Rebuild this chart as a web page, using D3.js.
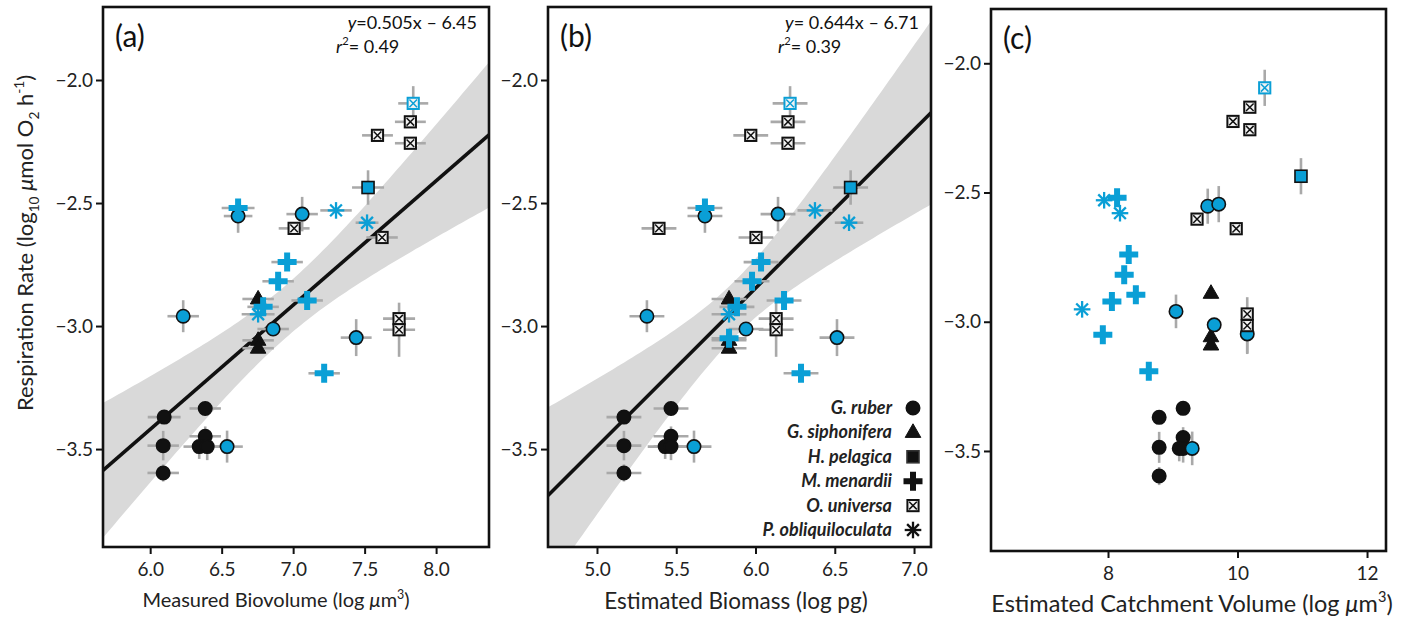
<!DOCTYPE html>
<html><head><meta charset="utf-8">
<script src="https://cdn.jsdelivr.net/npm/d3@7"></script>
<style>
body{margin:0;background:#fff;}
svg{display:block;font-family:Lato,"Open Sans",sans-serif;}
</style>
</head><body>
<svg id="chart" width="1411" height="623"></svg>
<script>
// ---------------- DATA ----------------
const speciesKeys  = ['ruber','siphonifera','pelagica','menardii','universa','obliquiloculata'];
const speciesNames = ['G. ruber','G. siphonifera','H. pelagica','M. menardii','O. universa','P. obliquiloculata'];

const pointSpecies = ['universa','universa','universa','universa','pelagica','menardii','ruber','ruber',
  'obliquiloculata','obliquiloculata','universa','universa','menardii','menardii','menardii','menardii',
  'siphonifera','obliquiloculata','ruber','ruber','siphonifera','siphonifera','ruber','universa','universa',
  'menardii','menardii','ruber','ruber','ruber','ruber','ruber','ruber','ruber','ruber'];
const pointColor = ['outline','black','black','black','blue','blue','blue','blue','blue','blue','black','black',
  'blue','blue','blue','blue','black','blue','blue','blue','black','black','blue','black','black','blue','blue',
  'black','black','black','black','black','black','black','blue'];
// x of panel (a): measured biovolume (log um3)
const biovolume = [7.84,7.82,7.59,7.82,7.524,6.615,6.615,7.063,7.30,7.517,7.007,7.622,6.958,6.895,7.098,6.79,
  6.755,6.755,6.231,6.86,6.755,6.755,7.441,7.741,7.741,null,7.217,6.098,6.385,6.385,6.091,6.343,6.399,6.091,6.538];
const biovolumeErr = [0.105,0.108,0.108,0.108,0.112,0.115,0.10,0.11,0.11,0.08,0.108,0.11,0.11,0.11,0.11,0.11,
  0.11,0.115,0.11,0.11,0.11,0.11,0.108,0.112,0.112,null,0.11,0.115,0.11,0.11,0.11,0.11,0.11,0.11,0.11];
// x of panel (b): estimated biomass (log pg)
const biomass = [6.218,6.205,5.97,6.205,6.60,5.681,5.681,6.142,6.375,6.59,5.391,6.003,6.035,5.978,6.18,5.883,
  5.833,5.833,5.315,5.94,5.833,5.833,6.514,6.13,6.13,5.833,6.287,5.17,5.467,5.467,5.17,5.43,5.467,5.17,5.612];
const biomassErr = [0.11,0.11,0.11,0.11,0.11,0.11,0.11,0.11,0.11,0.09,0.11,0.11,0.11,0.11,0.11,0.11,
  0.11,0.11,0.11,0.11,0.11,0.11,0.11,0.11,0.11,0.11,0.11,0.11,0.11,0.11,0.11,0.11,0.11,0.11,0.11];
// x of panel (c): estimated catchment volume (log um3)
const catchment = [10.42,10.19,9.93,10.19,10.98,8.14,9.54,9.71,7.94,8.185,9.375,9.98,8.32,8.25,8.43,8.06,
  9.59,7.60,9.05,9.64,9.59,9.59,10.15,10.15,10.15,7.92,8.63,8.79,9.16,9.16,8.79,9.10,9.16,8.79,9.30];
// y: respiration rate (log10 umol O2 h-1)
const resp = [-2.095,-2.17,-2.225,-2.257,-2.437,-2.52,-2.553,-2.545,-2.53,-2.58,-2.603,-2.64,-2.74,-2.818,
  -2.896,-2.922,-2.89,-2.952,-2.96,-3.012,-3.058,-3.09,-3.047,-2.97,-3.015,-3.05,-3.192,-3.37,-3.335,-3.448,
  -3.486,-3.49,-3.49,-3.597,-3.49];
const respErr = [0.07,0.02,0.02,0.02,0.07,0.02,0.068,0.07,0.01,0.01,0.02,0.02,0.02,0.02,0.02,0.02,0.02,0.01,
  0.065,0.02,0.02,0.02,0.075,0.02,0.11,0.02,0.02,0.02,0.02,0.04,0.06,0.05,0.055,0.035,0.065];

const respTicks = [-2.0,-2.5,-3.0,-3.5];
const biovolumeTicks = [6.0,6.5,7.0,7.5,8.0];
const biomassTicks = [5.0,5.5,6.0,6.5,7.0];
const catchmentTicks = [8,10,12];

const fitSlope = [0.505, 0.644];
const fitIntercept = [-6.45, -6.71];
const fitR2 = [0.49, 0.39];

// ---------------- DRAW ----------------
const svg = d3.select('#chart');
const BLUE = '#0a9fd6', INK = '#111', ERR = '#a9a9a9', BAND = '#d9d9d9';
const drawRank = {siphonifera:0, ruber:1, pelagica:2, universa:3, obliquiloculata:4, menardii:5};

function rich(sel, segs, size){
  let shift = 0;
  segs.forEach(s=>{
    const ts = sel.append('tspan').text(s.t);
    if(s.i) ts.attr('font-style','italic');
    const target = s.sup ? -0.42*size : (s.sub ? 0.28*size : 0);
    if(target !== shift){ ts.attr('dy', target - shift); shift = target; }
    if(s.sup || s.sub) ts.attr('font-size', size*0.62);
  });
}

function marker(sel, sp, col, cx, cy){
  const fc = col === 'black' ? INK : BLUE;
  const g = sel.append('g').attr('transform', `translate(${cx},${cy})`);
  if(sp === 'ruber'){
    g.append('circle').attr('r',6.7).attr('fill',fc).attr('stroke',INK).attr('stroke-width',1.6);
  } else if(sp === 'siphonifera'){
    g.append('path').attr('d','M0,-8.6L7.8,5L-7.8,5Z').attr('fill',fc).attr('stroke',INK).attr('stroke-width',1);
  } else if(sp === 'pelagica'){
    g.append('rect').attr('x',-6).attr('y',-6).attr('width',12).attr('height',12)
      .attr('fill',fc).attr('stroke', col==='black' ? '#333' : INK).attr('stroke-width',1.6);
  } else if(sp === 'universa'){
    const sc = col === 'outline' ? BLUE : INK;
    g.append('rect').attr('x',-5.6).attr('y',-5.6).attr('width',11.2).attr('height',11.2)
      .attr('fill','#f3f3f3').attr('stroke',sc).attr('stroke-width',2);
    g.append('path').attr('d','M-3.8,-3.8L3.8,3.8M3.8,-3.8L-3.8,3.8').attr('stroke',sc).attr('stroke-width',1.5);
  } else if(sp === 'menardii'){
    g.append('path').attr('d','M-3,-9.5H3V-3H9.5V3H3V9.5H-3V3H-9.5V-3H-3Z').attr('fill',fc);
  } else if(sp === 'obliquiloculata'){
    [0,45,90,135].forEach(a=>{
      const r = 8.3, rad = a*Math.PI/180;
      g.append('line').attr('x1',-r*Math.cos(rad)).attr('y1',-r*Math.sin(rad))
        .attr('x2',r*Math.cos(rad)).attr('y2',r*Math.sin(rad))
        .attr('stroke',fc).attr('stroke-width',2.3);
    });
  }
}

const panels = [
  {id:'a', xv:biovolume, xe:biovolumeErr, box:[103,7,489,547], xdom:[5.67,8.37], ydom:[-3.898,-1.7033],
   xticks:biovolumeTicks, xfmt:'.1f', fit:0, tag:'(a)',
   xlab:[{t:'Measured Biovolume (log '},{t:'μ',i:true},{t:'m'},{t:'3',sup:true},{t:')'}], xlabX:276, xlabY:607, xlabSize:20},
  {id:'b', xv:biomass, xe:biomassErr, box:[548,7,931,547], xdom:[4.691,7.107], ydom:[-3.898,-1.7033],
   xticks:biomassTicks, xfmt:'.1f', fit:1, tag:'(b)', legend:true,
   xlab:[{t:'Estimated Biomass (log pg)'}], xlabX:736, xlabY:609, xlabSize:22.5},
  {id:'c', xv:catchment, xe:null, box:[991,9,1386,551], xdom:[6.193,12.293], ydom:[-3.887,-1.79],
   xticks:catchmentTicks, xfmt:'d', fit:null, tag:'(c)',
   xlab:[{t:'Estimated Catchment Volume (log '},{t:'μ',i:true},{t:'m'},{t:'3',sup:true},{t:')'}], xlabX:1192, xlabY:612, xlabSize:23.5}
];

panels.forEach(p=>{
  const [x0,y0,x1,y1] = p.box;
  const x = d3.scaleLinear().domain(p.xdom).range([x0,x1]);
  const y = d3.scaleLinear().domain(p.ydom).range([y1,y0]);
  const g = svg.append('g');
  const clipId = 'clip-' + p.id;
  svg.append('clipPath').attr('id',clipId).append('rect')
    .attr('x',x0).attr('y',y0).attr('width',x1-x0).attr('height',y1-y0);
  const plot = g.append('g').attr('clip-path',`url(#${clipId})`);
  const idx = d3.range(resp.length).filter(i => p.xv[i] != null);

  if(p.fit != null){
    const m = fitSlope[p.fit], b = fitIntercept[p.fit], r2 = fitR2[p.fit];
    const xs = idx.map(i=>p.xv[i]), ys = idx.map(i=>resp[i]);
    const n = xs.length, xbar = d3.mean(xs), ybar = d3.mean(ys);
    const Sxx = d3.sum(xs, v=>(v-xbar)**2), Syy = d3.sum(ys, v=>(v-ybar)**2);
    const s = Math.sqrt((1-r2)*Syy/(n-2)), t = 2.035;
    const grid = d3.range(0,101).map(k => p.xdom[0] + k*(p.xdom[1]-p.xdom[0])/100);
    const hw = v => t*s*Math.sqrt(1/n + (v-xbar)**2/Sxx);
    plot.append('path').datum(grid)
      .attr('d', d3.area().x(v=>x(v)).y0(v=>y(m*v+b-hw(v))).y1(v=>y(m*v+b+hw(v))))
      .attr('fill',BAND);
    plot.append('line').attr('x1',x(p.xdom[0])).attr('y1',y(m*p.xdom[0]+b))
      .attr('x2',x(p.xdom[1])).attr('y2',y(m*p.xdom[1]+b))
      .attr('stroke',INK).attr('stroke-width',3.6);
    const eq = g.append('text').attr('x', x1-12).attr('y', y0+22).attr('text-anchor','end')
      .attr('font-size',18).attr('fill',INK);
    rich(eq, [{t:'y',i:true},{t:(p.fit===1?'= ':'=') + d3.format('.3f')(m) + 'x – ' + d3.format('.2f')(Math.abs(b))}], 18);
    const rq = g.append('text').attr('x', x1-153).attr('y', y0+46).attr('font-size',18).attr('fill',INK);
    rich(rq, [{t:'r',i:true},{t:'2',sup:true},{t:'= ' + d3.format('.2f')(r2)}], 18);
  }

  const eb = plot.append('g').attr('stroke',ERR).attr('stroke-width',2.6);
  idx.forEach(i=>{
    const cx = x(p.xv[i]), cy = y(resp[i]);
    if(p.xe){
      eb.append('line').attr('x1',x(p.xv[i]-p.xe[i])).attr('x2',x(p.xv[i]+p.xe[i])).attr('y1',cy).attr('y2',cy);
    }
    eb.append('line').attr('x1',cx).attr('x2',cx).attr('y1',y(resp[i]-respErr[i])).attr('y2',y(resp[i]+respErr[i]));
  });

  const mk = plot.append('g');
  idx.slice().sort((a,b)=>drawRank[pointSpecies[a]]-drawRank[pointSpecies[b]] || a-b)
    .forEach(i=> marker(mk, pointSpecies[i], pointColor[i], x(p.xv[i]), y(resp[i])));

  g.append('rect').attr('x',x0).attr('y',y0).attr('width',x1-x0).attr('height',y1-y0)
    .attr('fill','none').attr('stroke',INK).attr('stroke-width',2.6);

  const ax = g.append('g').attr('transform',`translate(0,${y1+1})`)
    .call(d3.axisBottom(x).tickValues(p.xticks).tickFormat(d3.format(p.xfmt)).tickSize(6).tickPadding(9));
  const ay = g.append('g').attr('transform',`translate(${x0-1},0)`)
    .call(d3.axisLeft(y).tickValues(respTicks).tickFormat(d3.format('.1f')).tickSize(6).tickPadding(3));
  [ax,ay].forEach(a=>{
    a.select('.domain').remove();
    a.selectAll('.tick line').attr('stroke',INK).attr('stroke-width',2);
    a.selectAll('.tick text').attr('font-size',19).attr('fill','#222').attr('font-family','Lato,"Open Sans",sans-serif');
  });

  g.append('text').attr('x', x0+12).attr('y', y0+40).attr('font-size',30).attr('fill',INK).text(p.tag);

  const xl = g.append('text').attr('x', p.xlabX).attr('y', p.xlabY).attr('text-anchor','middle')
    .attr('font-size',p.xlabSize).attr('fill','#222');
  rich(xl, p.xlab, p.xlabSize);

  if(p.legend){
    const lg = g.append('g');
    speciesKeys.forEach((k,j)=>{
      const cy = 408 + j*24.4;
      lg.append('text').attr('x', x1-39).attr('y', cy+6).attr('text-anchor','end')
        .attr('font-size',18).attr('font-style','italic').attr('font-weight',700).attr('fill','#222')
        .text(speciesNames[j]);
      marker(lg, k, 'black', x1-18, cy);
    });
  }
});

const yt = svg.append('text').attr('transform','translate(33,243) rotate(-90)')
  .attr('text-anchor','middle').attr('font-size',22).attr('fill','#222');
rich(yt, [{t:'Respiration Rate (log'},{t:'10',sub:true},{t:' '},{t:'μ',i:true},{t:'mol O'},{t:'2',sub:true},{t:' h'},{t:'-1',sup:true},{t:')'}], 22);
</script>
</body></html>
